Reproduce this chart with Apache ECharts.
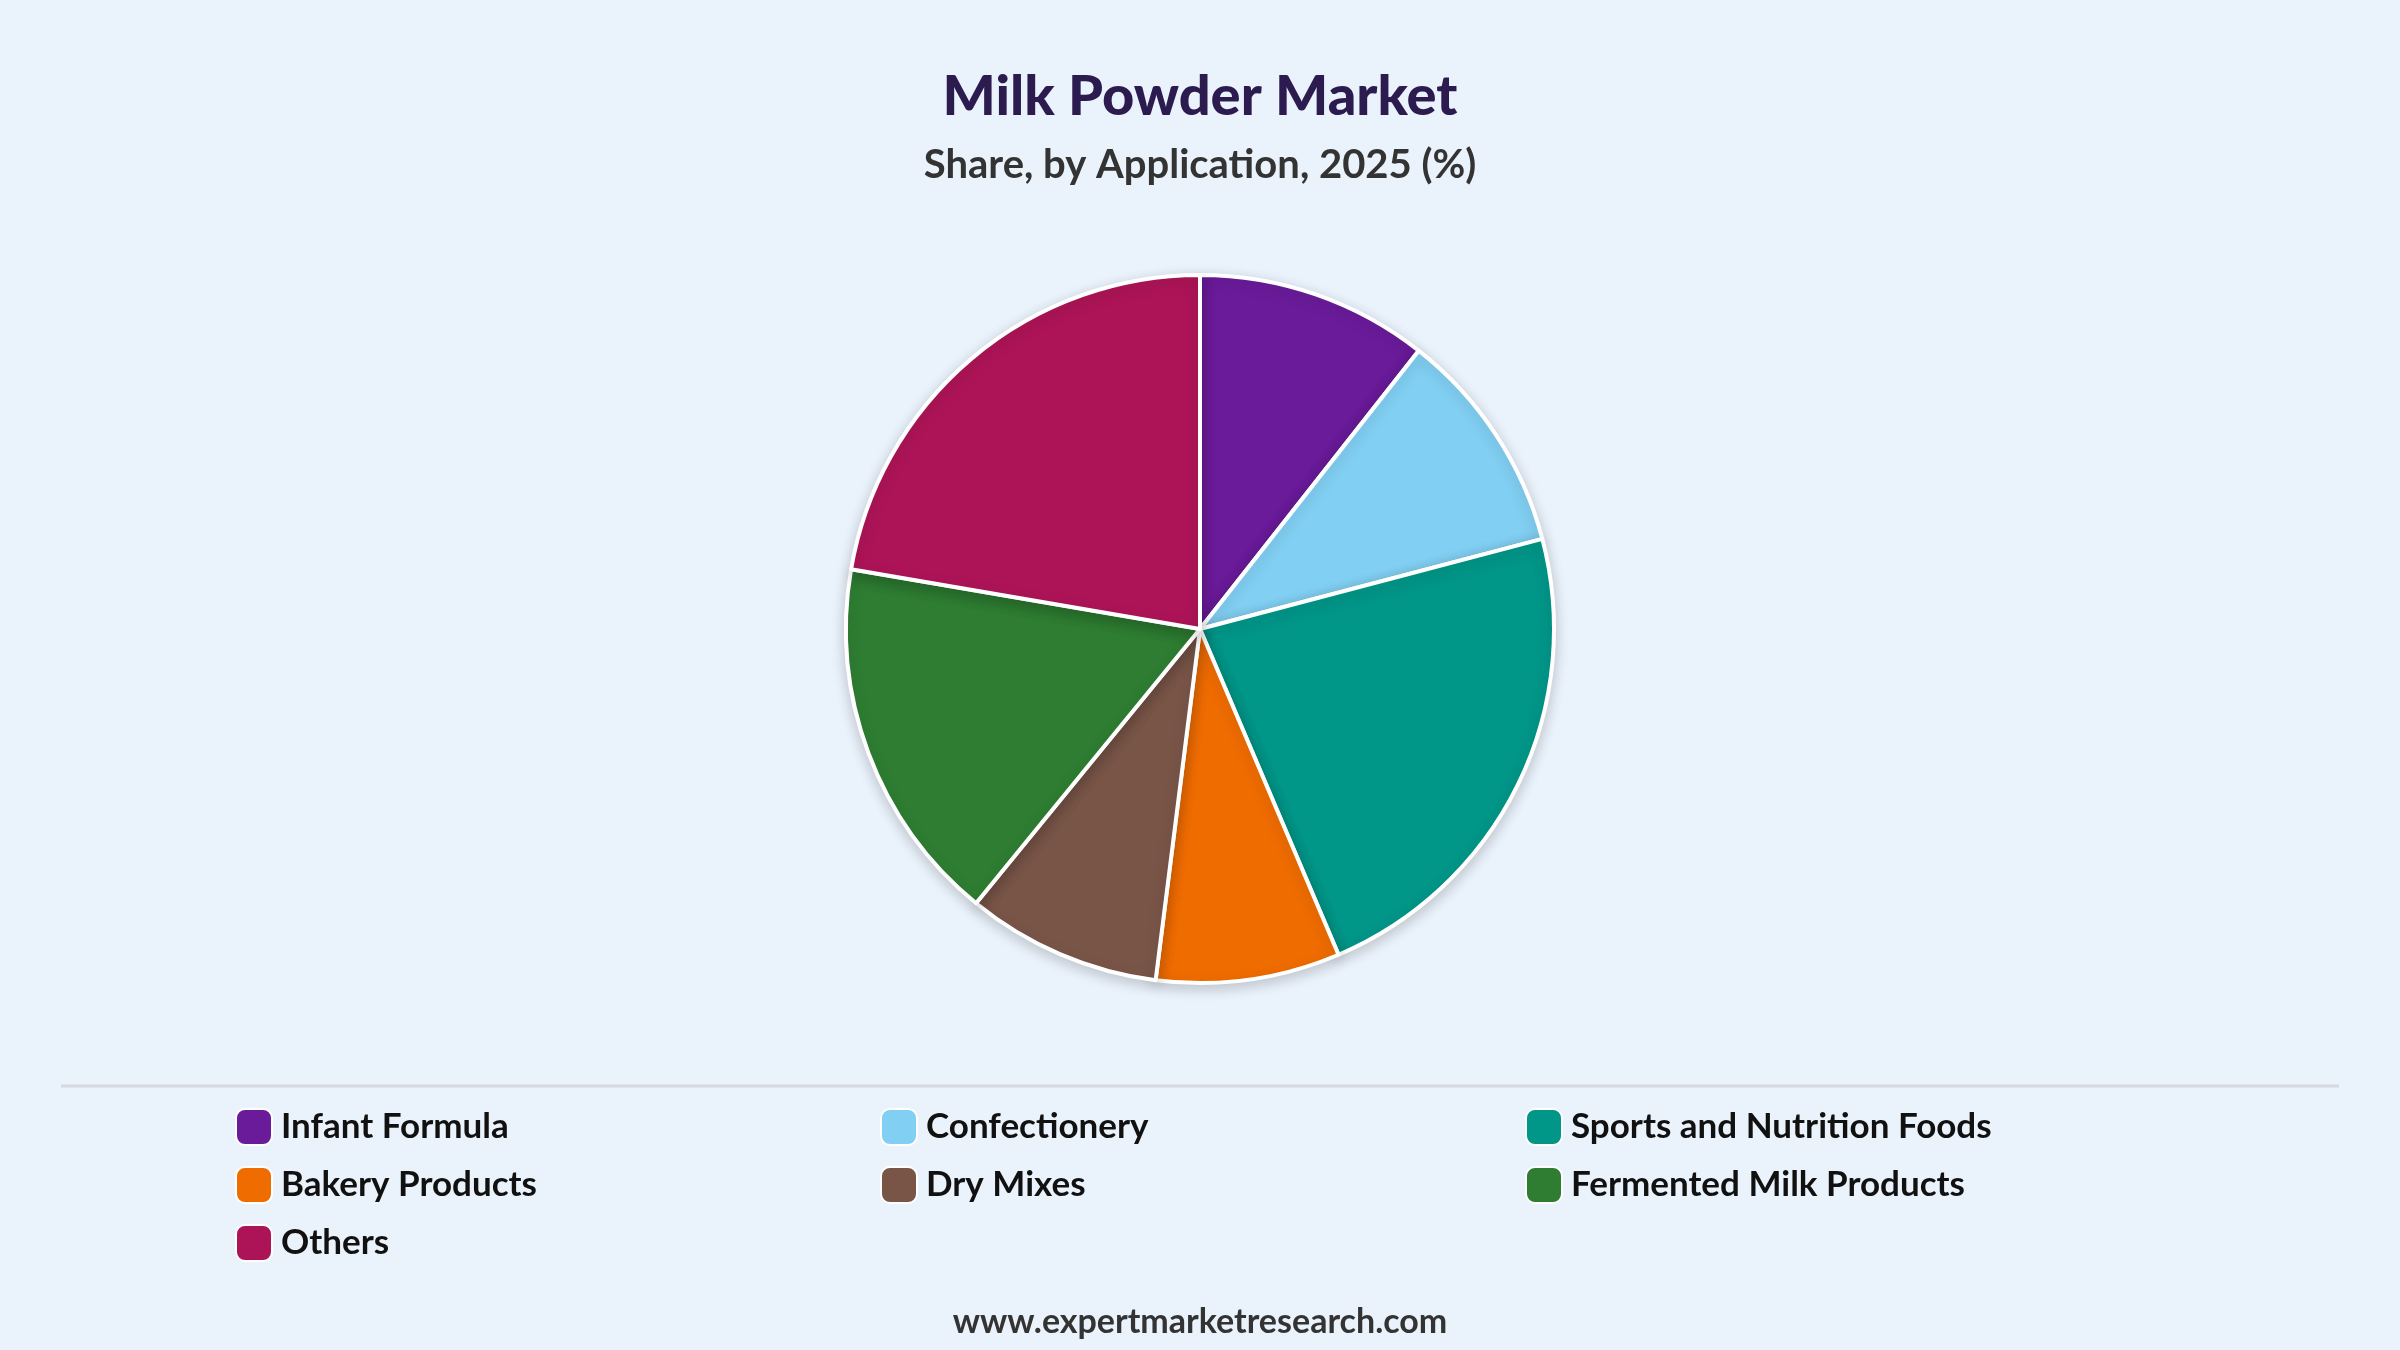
<!DOCTYPE html>
<html><head><meta charset="utf-8">
<script src="https://cdn.jsdelivr.net/npm/echarts@6/dist/echarts.min.js"></script>
<style>html,body{margin:0;padding:0;background:#EAF2FB;}#c{width:2400px;height:1350px;}</style>
</head><body><div id="c"></div>
<script>
const categories = ["Infant Formula","Confectionery","Sports and Nutrition Foods","Bakery Products","Dry Mixes","Fermented Milk Products","Others"];
const shares = [10.6, 10.3, 22.7, 8.4, 8.9, 16.8, 22.3];
const colors = ["#6A1B9A","#81CFF2","#009688","#EF6C00","#795548","#2E7D32","#AD1457"];
const legendCols = [[0,3,6],[1,4],[2,5]];
const legendLeft = [230, 875, 1520];

const font = "Lato";
const chart = echarts.init(document.getElementById('c'));
chart.setOption({
  backgroundColor: "#EAF2FB",
  color: colors,
  title: [
    {text: "Milk Powder Market", left: "center", top: 64, textStyle: {fontFamily: font, fontWeight: 900, fontSize: 56, color: "#2B1B4F"}},
    {text: "Share, by Application, 2025 (%)", left: "center", top: 140, textStyle: {fontFamily: font, fontWeight: 700, fontSize: 40, color: "#333"}},
    {text: "www.expertmarketresearch.com", left: "center", top: 1300, textStyle: {fontFamily: font, fontWeight: 700, fontSize: 34, color: "#333"}}
  ],
  legend: legendCols.map((idx, i) => ({
    orient: "vertical", left: legendLeft[i], top: 1103, itemGap: 20,
    itemWidth: 36, itemHeight: 36, icon: "roundRect",
    data: idx.map(k => categories[k]),
    selectedMode: false,
    textStyle: {fontFamily: font, fontWeight: 700, fontSize: 35, color: "#111", padding: [0,0,0,4]}
  })),
  graphic: [{type: "line", shape: {x1: 61, y1: 1086, x2: 2339, y2: 1086}, style: {stroke: "#D5D9DF", lineWidth: 3}}],
  series: [{
    type: "pie", center: [1200, 629], radius: 354, startAngle: 90, clockwise: true,
    label: {show: false}, labelLine: {show: false},
    itemStyle: {borderColor: "#fff", borderWidth: 4, shadowBlur: 14, shadowColor: "rgba(0,0,0,0.18)", shadowOffsetY: 4},
    emphasis: {disabled: true},
    data: categories.map((c, i) => ({name: c, value: shares[i]}))
  }]
});
</script></body></html>
